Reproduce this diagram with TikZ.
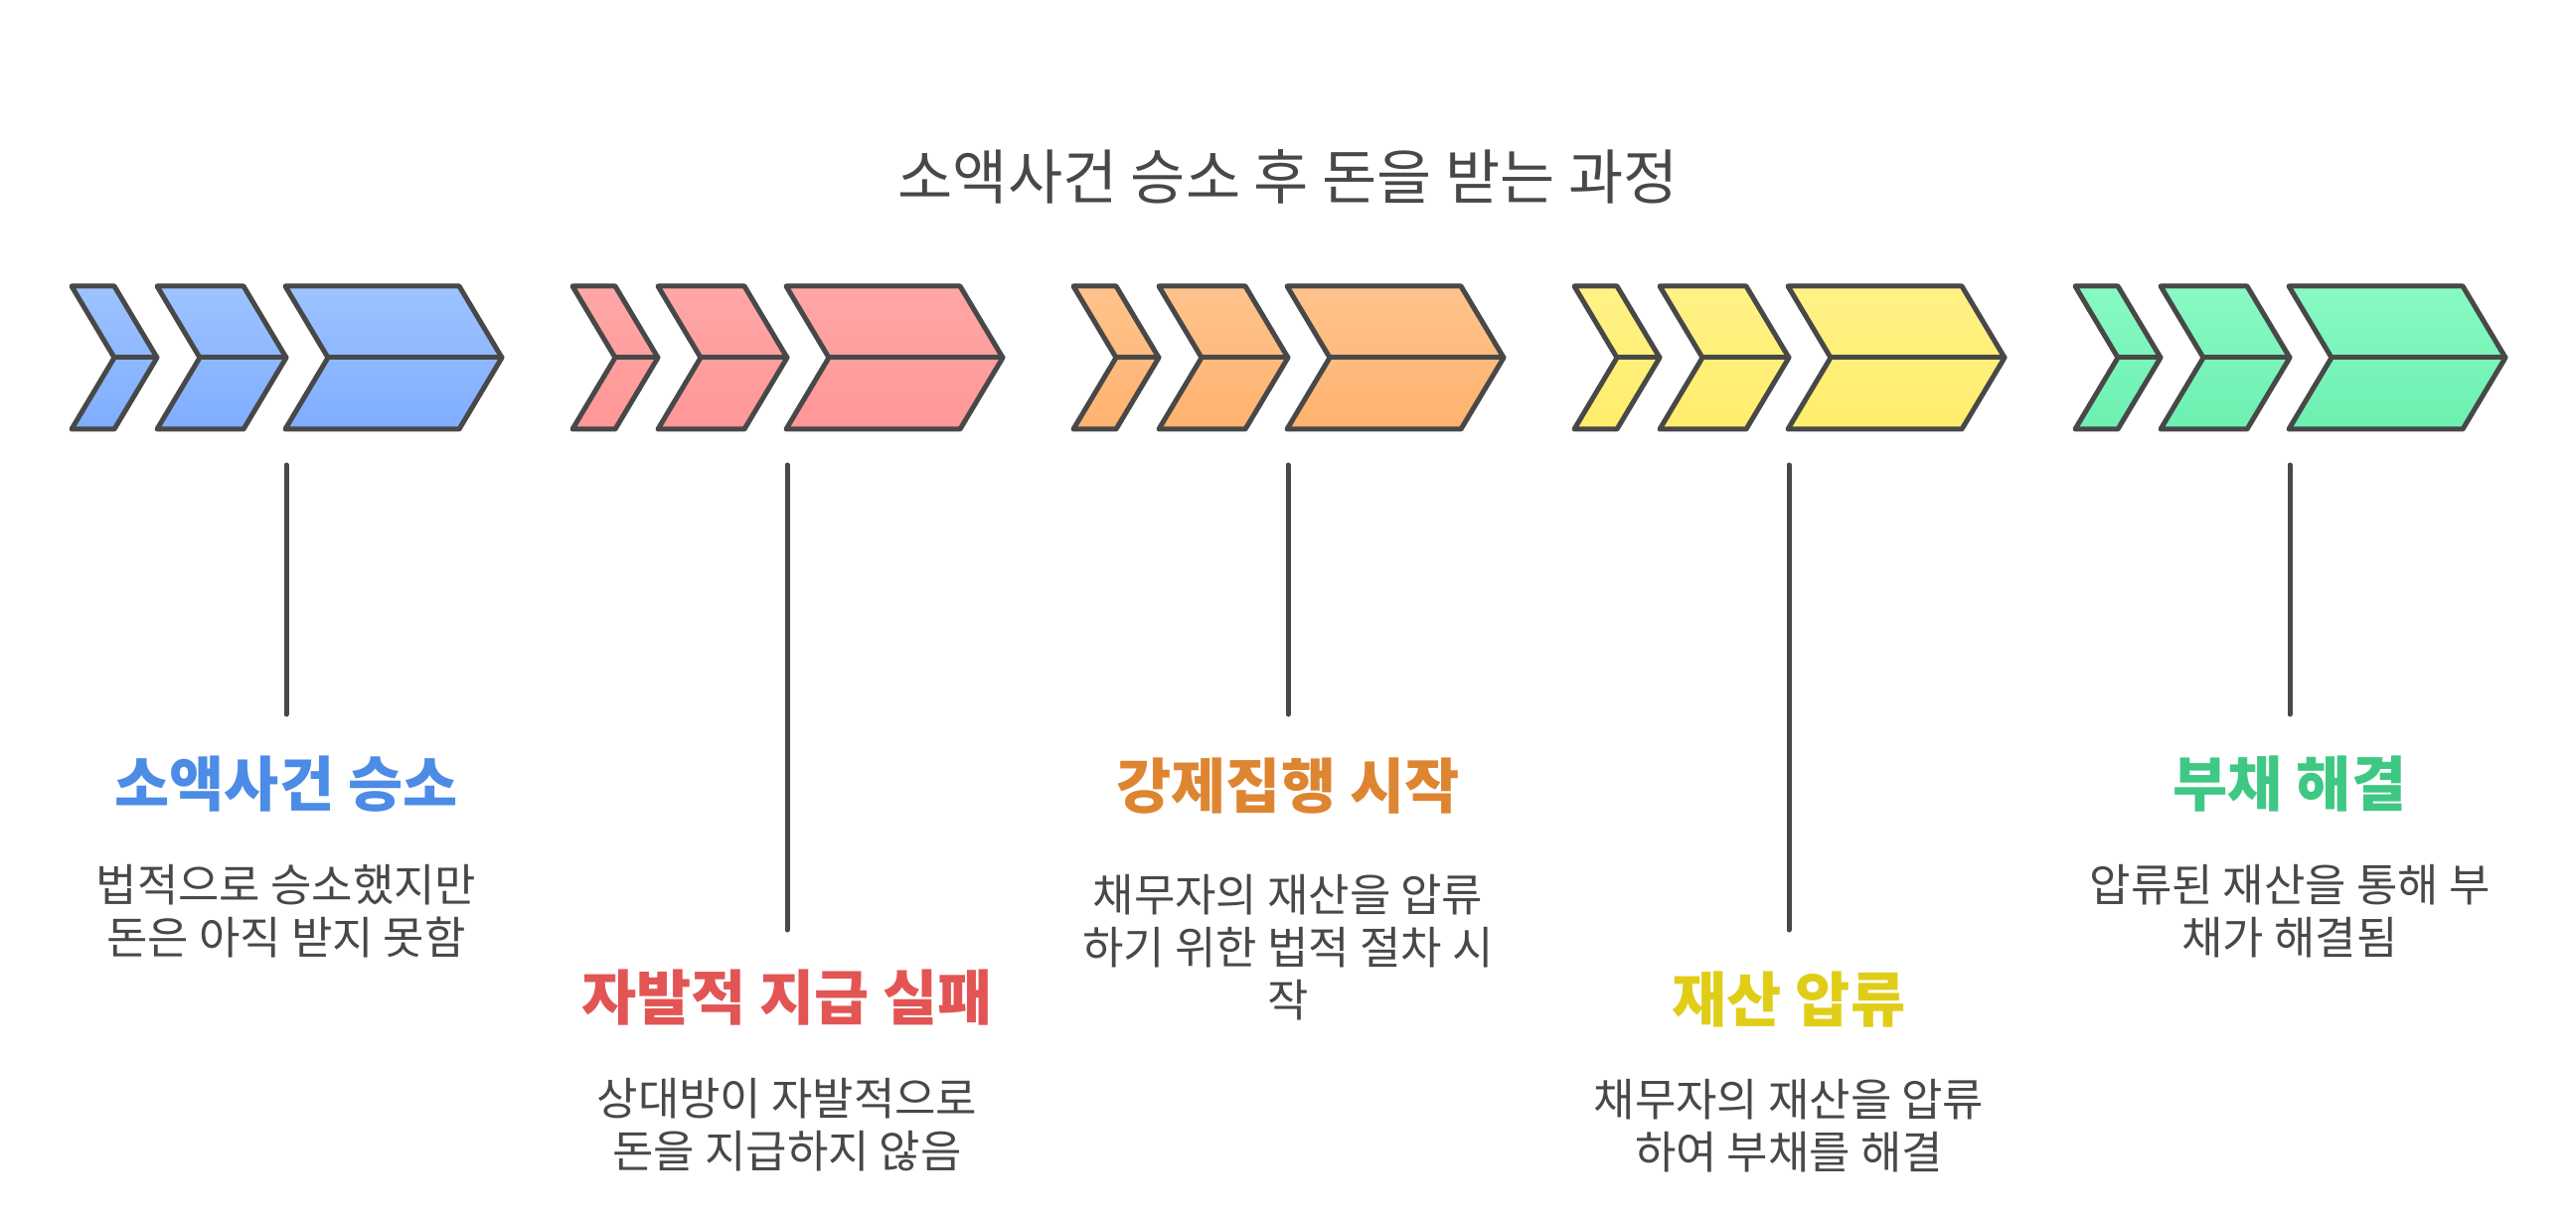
\documentclass[tikz,border=0pt]{standalone}
\usepackage{fontspec}
\setmainfont{Noto Sans CJK KR}
\definecolor{linegray}{HTML}{484848}
\definecolor{txtgray}{HTML}{484848}
\definecolor{blueT}{HTML}{9DC3FF}\definecolor{blueB}{HTML}{7FADFF}\definecolor{blueTx}{HTML}{4C8BE6}
\definecolor{redT}{HTML}{FFA6A6}\definecolor{redB}{HTML}{FF9797}\definecolor{redTx}{HTML}{E35555}
\definecolor{orangeT}{HTML}{FFC38C}\definecolor{orangeB}{HTML}{FFB26E}\definecolor{orangeTx}{HTML}{DE8532}
\definecolor{yellowT}{HTML}{FFF286}\definecolor{yellowB}{HTML}{FFED6C}\definecolor{yellowTx}{HTML}{E0CD18}
\definecolor{greenT}{HTML}{88FAC4}\definecolor{greenB}{HTML}{6CF0B0}\definecolor{greenTx}{HTML}{3EC883}
\tikzset{
  maintitle/.style={font=\fontsize{60}{72}\selectfont, text=txtgray, inner sep=0pt, anchor=north},
  steptitle/.style={font=\bfseries\fontsize{60}{72}\selectfont, inner sep=0pt, anchor=north},
  desc/.style={font=\fontsize{45}{53}\selectfont, text=txtgray, align=center, inner sep=0pt, anchor=north},
  chev/.style={draw=linegray, line width=5pt, line join=round, line cap=round},
  stem/.style={draw=linegray, line width=5pt, line cap=round},
}
\begin{document}
\begin{tikzpicture}[x=1pt,y=-1pt]
\useasboundingbox[fill=white] (0,0) rectangle (2592,1230);
\node[maintitle] (title) at (1296,150) {소액사건 승소 후 돈을 받는 과정};
\foreach \i/\ct/\cb in {0/blueT/blueB,1/redT/redB,2/orangeT/orangeB,3/yellowT/yellowB,4/greenT/greenB}{
  \begin{scope}[xshift=\i*504pt]
    \path[chev, top color=\ct, bottom color=\cb] (72,288) -- (115,288) -- (158,360) -- (115,432) -- (72,432) -- (115,360) -- cycle;
    \draw[chev] (115,360) -- (158,360);
    \path[chev, top color=\ct, bottom color=\cb] (158,288) -- (245,288) -- (288,360) -- (245,432) -- (158,432) -- (201,360) -- cycle;
    \draw[chev] (201,360) -- (288,360);
    \path[chev, top color=\ct, bottom color=\cb] (287,288) -- (462,288) -- (505,360) -- (462,432) -- (287,432) -- (330,360) -- cycle;
    \draw[chev] (330,360) -- (505,360);
  \end{scope}
}
% stems
\coordinate (s1a) at (288,468);  \coordinate (s1b) at (288,719);
\coordinate (s2a) at (792,468);  \coordinate (s2b) at (792,936);
\coordinate (s3a) at (1296,468); \coordinate (s3b) at (1296,719);
\coordinate (s4a) at (1800,468); \coordinate (s4b) at (1800,936);
\coordinate (s5a) at (2304,468); \coordinate (s5b) at (2304,719);
\draw[stem] (s1a) -- (s1b);
\draw[stem] (s2a) -- (s2b);
\draw[stem] (s3a) -- (s3b);
\draw[stem] (s4a) -- (s4b);
\draw[stem] (s5a) -- (s5b);
% labels
\node[steptitle, text=blueTx] (t1) at (288,761) {소액사건 승소};
\node[desc] (d1) at (288,870) {법적으로 승소했지만\\돈은 아직 받지 못함};
\node[steptitle, text=redTx] (t2) at (792,976) {자발적 지급 실패};
\node[desc] (d2) at (792,1085) {상대방이 자발적으로\\돈을 지급하지 않음};
\node[steptitle, text=orangeTx] (t3) at (1296,763) {강제집행 시작};
\node[desc] (d3) at (1296,880) {채무자의 재산을 압류\\하기 위한 법적 절차 시\\작};
\node[steptitle, text=yellowTx] (t4) at (1800,978) {재산 압류};
\node[desc] (d4) at (1800,1086) {채무자의 재산을 압류\\하여 부채를 해결};
\node[steptitle, text=greenTx] (t5) at (2304,761) {부채 해결};
\node[desc] (d5) at (2304,870) {압류된 재산을 통해 부\\채가 해결됨};
\end{tikzpicture}
\end{document}
